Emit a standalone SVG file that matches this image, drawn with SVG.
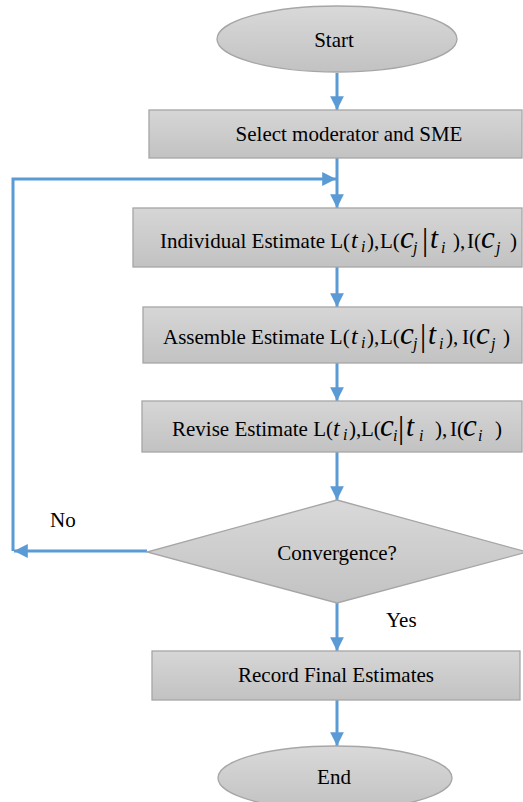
<svg xmlns="http://www.w3.org/2000/svg" width="523" height="802" viewBox="0 0 523 802">
<style>
.shape{stroke:#a6a6a6;stroke-width:1.3}
.box{fill:url(#gBox)}
.oval{fill:url(#gOval)}
text{font-family:'Liberation Serif','Times New Roman',Times,serif;font-size:21px;fill:#000}
.mid{text-anchor:middle}
.s{font-style:italic;font-size:16px}
.c{font-style:italic;font-size:31px}
.t{font-style:italic;font-size:29px}
.t1{font-style:italic;font-size:24px}
.bar{font-size:31px}
.conn{stroke:#5b9bd5;stroke-width:3;fill:none}
</style>
<defs>
<linearGradient id="gBox" x1="0" y1="0" x2="0" y2="1">
<stop offset="0" stop-color="#d6d6d6"/><stop offset="1" stop-color="#c2c2c2"/>
</linearGradient>
<linearGradient id="gOval" x1="0" y1="0" x2="0" y2="1">
<stop offset="0" stop-color="#d9d9d9"/><stop offset="1" stop-color="#c2c2c2"/>
</linearGradient>
<marker id="ah" viewBox="0 0 10 10" refX="10" refY="5" markerWidth="4.6" markerHeight="4.6" markerUnits="strokeWidth" orient="auto">
<path d="M0,0 L10,5 L0,10 z" fill="#5b9bd5"/>
</marker>
</defs>

<g id="connectors">
<line class="conn" x1="337" y1="73" x2="337" y2="110" marker-end="url(#ah)"/>
<line class="conn" x1="337" y1="158" x2="337" y2="208" marker-end="url(#ah)"/>
<line class="conn" x1="337" y1="267" x2="337" y2="307" marker-end="url(#ah)"/>
<line class="conn" x1="337" y1="363" x2="337" y2="401" marker-end="url(#ah)"/>
<line class="conn" x1="337" y1="452" x2="337" y2="500" marker-end="url(#ah)"/>
<line class="conn" x1="337" y1="603" x2="337" y2="651" marker-end="url(#ah)"/>
<line class="conn" x1="337" y1="700" x2="337" y2="746" marker-end="url(#ah)"/>
<line class="conn" x1="147" y1="551" x2="14" y2="551" marker-end="url(#ah)"/>
<polyline class="conn" points="13,551 13,179 336,179" marker-end="url(#ah)"/>
</g>

<g id="start">
<ellipse class="shape oval" cx="337" cy="39" rx="120" ry="33"/>
<text class="mid" x="334" y="47">Start</text>
</g>

<g id="select">
<rect class="shape box" x="149" y="110" width="373" height="48"/>
<text class="mid" x="349" y="141" font-size="19">Select moderator and SME</text>
</g>

<g id="individual">
<rect class="shape box" x="133" y="208" width="389" height="59"/>
<text y="248"><tspan x="160" y="248">Individual Estimate L(</tspan><tspan class="t1" x="351" y="248">t</tspan><tspan class="s" x="361" y="252">i</tspan><tspan x="367" y="248">),</tspan><tspan x="380" y="248">L(</tspan><tspan class="c" x="400" y="248">c</tspan><tspan class="s" x="413" y="253">j</tspan><tspan class="bar" x="422" y="250">|</tspan><tspan class="t" x="430" y="248">t</tspan><tspan class="s" x="441" y="253">i</tspan><tspan x="453" y="248">),</tspan><tspan x="467" y="248">I(</tspan><tspan class="c" x="481" y="248">c</tspan><tspan class="s" x="496" y="253">j</tspan><tspan x="510" y="248">)</tspan></text>
</g>

<g id="assemble">
<rect class="shape box" x="143" y="307" width="379" height="56"/>
<text y="344"><tspan x="163" y="344">Assemble Estimate L(</tspan><tspan class="t1" x="351" y="344">t</tspan><tspan class="s" x="361" y="348">i</tspan><tspan x="367" y="344">),</tspan><tspan x="380" y="344">L(</tspan><tspan class="c" x="400" y="344">c</tspan><tspan class="s" x="413" y="349">j</tspan><tspan class="bar" x="420" y="346">|</tspan><tspan class="t" x="428" y="344">t</tspan><tspan class="s" x="439" y="349">i</tspan><tspan x="446" y="344">),</tspan><tspan x="462" y="344">I(</tspan><tspan class="c" x="476" y="344">c</tspan><tspan class="s" x="491" y="349">j</tspan><tspan x="503" y="344">)</tspan></text>
</g>

<g id="revise">
<rect class="shape box" x="142" y="401" width="380" height="51"/>
<text y="436"><tspan x="172" y="436">Revise Estimate L(</tspan><tspan class="t1" x="333" y="436">t</tspan><tspan class="s" x="343" y="440">i</tspan><tspan x="349" y="436">),</tspan><tspan x="361" y="436">L(</tspan><tspan class="c" x="380" y="436">c</tspan><tspan class="s" x="393" y="441">i</tspan><tspan class="bar" x="398" y="438">|</tspan><tspan class="t" x="406" y="436">t</tspan><tspan class="s" x="419" y="441">i</tspan><tspan x="435" y="436">),</tspan><tspan x="450" y="436">I(</tspan><tspan class="c" x="463" y="436">c</tspan><tspan class="s" x="478" y="441">i</tspan><tspan x="495" y="436">)</tspan></text>
</g>

<g id="convergence">
<polygon class="shape oval" points="337,500 527,552 337,603 147,552"/>
<text class="mid" x="337" y="560">Convergence?</text>
</g>

<g id="labels">
<text x="50" y="527">No</text>
<text x="386" y="627">Yes</text>
</g>

<g id="record">
<rect class="shape box" x="152" y="651" width="368" height="49"/>
<text class="mid" x="336" y="682">Record Final Estimates</text>
</g>

<g id="end">
<ellipse class="shape oval" cx="335" cy="778" rx="117" ry="32"/>
<text class="mid" x="334" y="784">End</text>
</g>
</svg>
